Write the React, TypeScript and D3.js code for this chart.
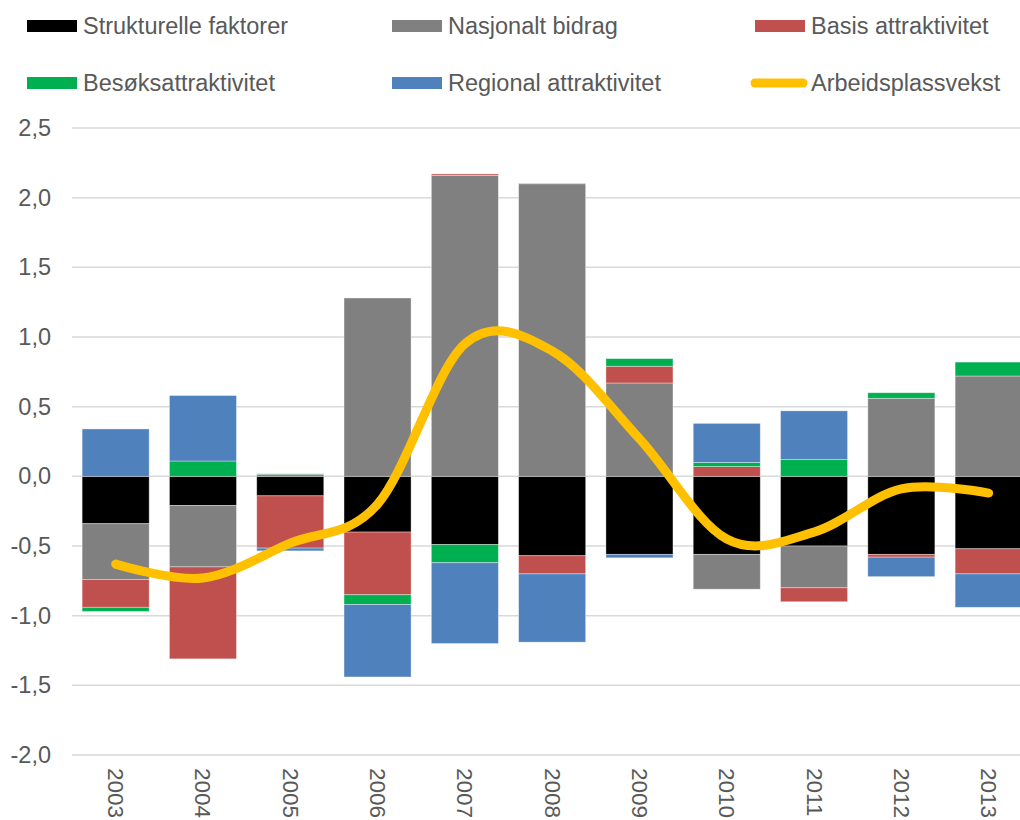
import React from "react";
import * as d3 from "d3";

const years = ["2003", "2004", "2005", "2006", "2007", "2008", "2009", "2010", "2011", "2012", "2013"];
const strukturelle = [-0.34, -0.21, -0.14, -0.40, -0.49, -0.57, -0.56, -0.56, -0.50, -0.56, -0.52];
const nasjonalt = [-0.40, -0.44, 0.015, 1.28, 2.16, 2.10, 0.67, -0.25, -0.30, 0.56, 0.72];
const basis = [-0.20, -0.66, -0.375, -0.45, 0.01, -0.13, 0.12, 0.07, -0.10, -0.02, -0.18];
const besok = [-0.03, 0.11, 0.003, -0.07, -0.13, 0.003, 0.055, 0.03, 0.12, 0.04, 0.10];
const regional = [0.34, 0.47, -0.02, -0.52, -0.58, -0.49, -0.025, 0.28, 0.35, -0.14, -0.24];
const arbeidsplassvekst = [-0.63, -0.73, -0.48, -0.20, 0.95, 0.90, 0.27, -0.45, -0.40, -0.09, -0.12];
const yTicks = [-2, -1.5, -1, -0.5, 0, 0.5, 1, 1.5, 2, 2.5];

const seriesNames = ["Strukturelle faktorer", "Nasjonalt bidrag", "Basis attraktivitet", "Besøksattraktivitet", "Regional attraktivitet"];
const seriesValues = [strukturelle, nasjonalt, basis, besok, regional];
const seriesColors = ["#000000", "#808080", "#C0504D", "#00B050", "#4F81BD"];
const lineName = "Arbeidsplassvekst";
const lineColor = "#FFC000";

const FONT = "'Liberation Sans', Arial, sans-serif";
const TEXT = "#595959";

export default function App() {
  const x = d3.scaleBand<string>().domain(years).range([72, 72 + 11 * 87.3]).paddingInner(0.232).paddingOuter(0.116);
  const y = d3.scaleLinear().domain([-2, 2.5]).range([755, 128]);

  const rows = years.map((yr, i) => {
    const r: any = { year: yr };
    seriesNames.forEach((n, j) => (r[n] = seriesValues[j][i]));
    return r;
  });
  const stack = d3.stack<any>().keys(seriesNames).offset(d3.stackOffsetDiverging);
  const stacked = stack(rows);

  const line = d3
    .line<number>()
    .x((_, i) => (x(years[i]) as number) + x.bandwidth() / 2)
    .y((v) => y(v))
    .curve(d3.curveCatmullRom.alpha(0));

  const fmt = (v: number) => d3.format(".1f")(v).replace(".", ",").replace("−", "-");

  const legendItems = [
    { name: seriesNames[0], color: seriesColors[0], type: "rect", lx: 27, ly: 26 },
    { name: seriesNames[1], color: seriesColors[1], type: "rect", lx: 392, ly: 26 },
    { name: seriesNames[2], color: seriesColors[2], type: "rect", lx: 755, ly: 26 },
    { name: seriesNames[3], color: seriesColors[3], type: "rect", lx: 27, ly: 83 },
    { name: seriesNames[4], color: seriesColors[4], type: "rect", lx: 392, ly: 83 },
    { name: lineName, color: lineColor, type: "line", lx: 755, ly: 83 },
  ];

  return (
    <svg width={1020} height={820} style={{ position: "absolute", left: 0, top: 0, background: "#fff" }} fontFamily={FONT}>
      {yTicks.map((t) => (
        <g key={t}>
          <line x1={72} x2={1032} y1={y(t)} y2={y(t)} stroke="#d9d9d9" strokeWidth={1.5} />
          <text x={51} y={y(t)} textAnchor="end" dominantBaseline="central" fontSize={23.5} fill={TEXT}>
            {fmt(t)}
          </text>
        </g>
      ))}
      {stacked.map((s, j) =>
        s.map((d, i) => (
          <rect
            key={`${j}-${i}`}
            x={x(years[i])}
            width={x.bandwidth()}
            y={y(Math.max(d[0], d[1]))}
            height={Math.abs(y(d[0]) - y(d[1]))}
            fill={seriesColors[j]}
            stroke="rgba(255,255,255,0.45)"
            strokeWidth={0.8}
          />
        ))
      )}
      <path d={line(arbeidsplassvekst) || ""} fill="none" stroke={lineColor} strokeWidth={9} strokeLinecap="round" strokeLinejoin="round" />
      {years.map((yr) => (
        <text
          key={yr}
          transform={`translate(${(x(yr) as number) + x.bandwidth() / 2},768) rotate(90)`}
          textAnchor="start"
          dominantBaseline="central"
          fontSize={22.5}
          fill={TEXT}
        >
          {yr}
        </text>
      ))}
      {legendItems.map((it) => (
        <g key={it.name}>
          {it.type === "rect" ? (
            <rect x={it.lx} y={it.ly - 6} width={50} height={12} fill={it.color} />
          ) : (
            <line x1={it.lx} x2={it.lx + 48} y1={it.ly} y2={it.ly} stroke={it.color} strokeWidth={9} strokeLinecap="round" />
          )}
          <text x={it.lx + 56} y={it.ly} dominantBaseline="central" fontSize={23.5} fill={TEXT}>
            {it.name}
          </text>
        </g>
      ))}
    </svg>
  );
}
